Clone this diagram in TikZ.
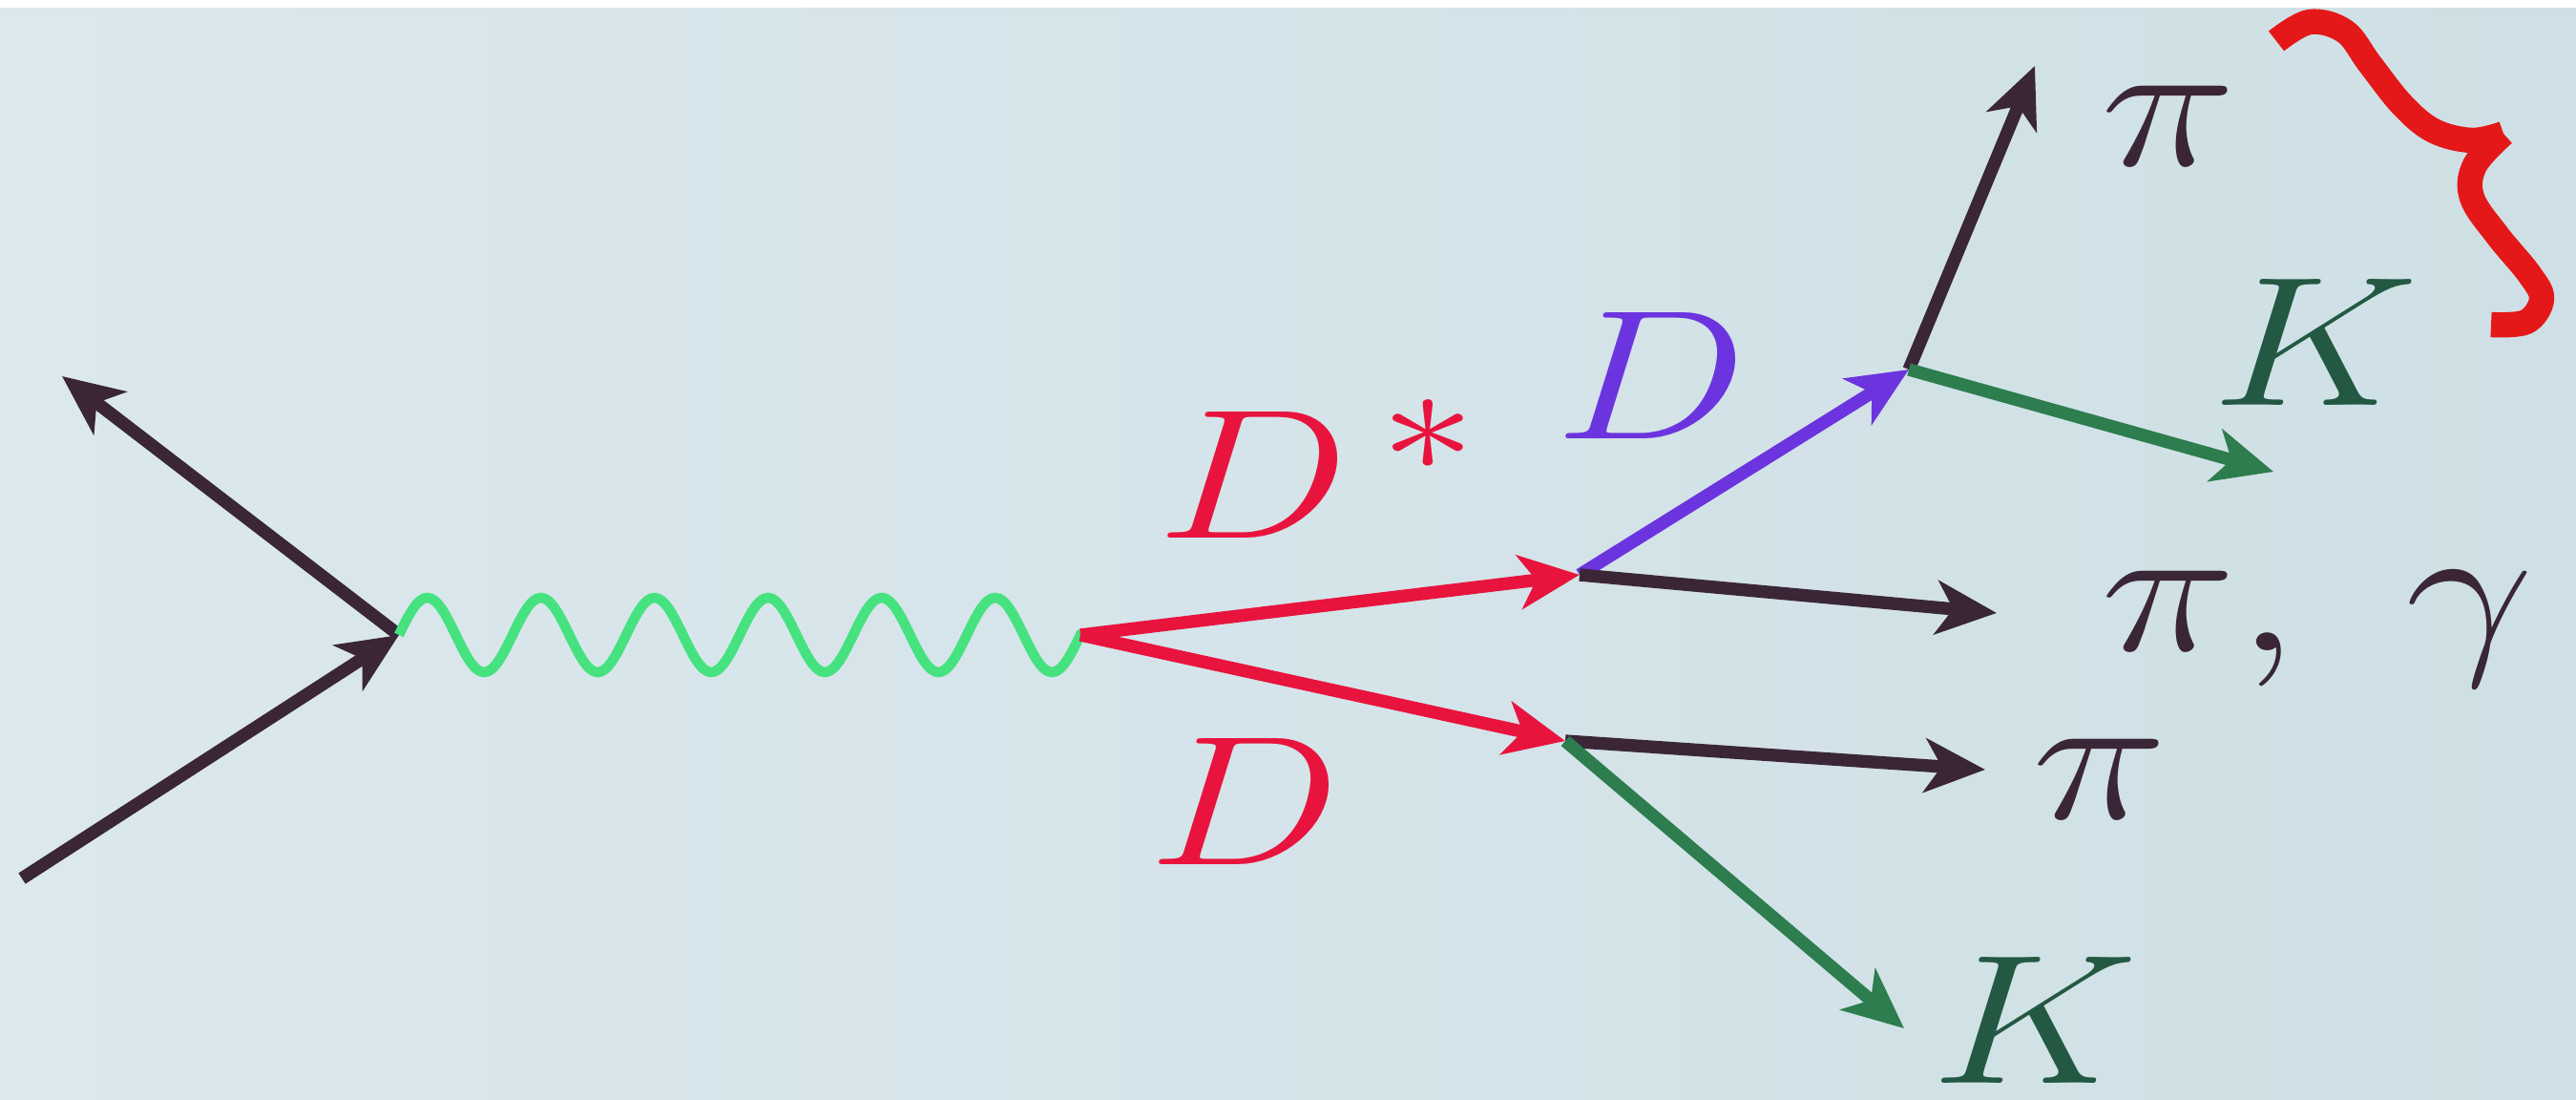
\documentclass[tikz,border=0pt]{standalone}
\usepackage{tikz}
\usetikzlibrary{arrows.meta}
\definecolor{bgLeft}{RGB}{219, 232, 238}
\definecolor{bgMid}{RGB}{221, 236, 243}
\definecolor{bgRight}{RGB}{206, 224, 229}
\definecolor{quarkDark}{RGB}{58, 38, 55}
\definecolor{photonGreen}{RGB}{70, 226, 128}
\definecolor{charmRed}{RGB}{232, 20, 62}
\definecolor{dViolet}{RGB}{108, 52, 222}
\definecolor{kaonGreen}{RGB}{45, 125, 78}
\definecolor{kaonInk}{RGB}{35, 88, 66}
\definecolor{braceRed}{RGB}{228, 24, 24}

\begin{document}
\begin{tikzpicture}[
    every node/.style={inner sep=0pt, font=\Huge, xscale=2.74, yscale=2.21},
    leg/.style={line width=3.8pt, -{Stealth[length=18pt, width=16pt, inset=5pt]}},
    photon/.style={line width=3pt, color=photonGreen}
  ]
    % Screen background
    \shade[left color=bgLeft, middle color=bgMid, right color=bgRight] (0,0) rectangle (26.99,11.51);
    \fill[white] (0,11.43) rectangle (26.99,11.51);
    \useasboundingbox (0,0) rectangle (26.99,11.51);

    % Vertices
    \coordinate (beamIn) at (0.23,2.31);
    \coordinate (beamOut) at (0.65,7.57);
    \coordinate (ee) at (4.18,4.86);
    \coordinate (cc) at (11.32,4.86);
    \coordinate (dstar) at (16.55,5.49);
    \coordinate (dbar) at (16.40,3.75);
    \coordinate (dzero) at (20.00,7.64);

    % Final state ends
    \coordinate (piUpEnd) at (21.32,10.82);
    \coordinate (kUpEnd) at (23.82,6.57);
    \coordinate (piSoftEnd) at (20.92,5.09);
    \coordinate (piLowEnd) at (20.80,3.45);
    \coordinate (kLowEnd) at (19.95,0.74);

    % Labels
    \node[text=charmRed] (lblDstar) at (13.82,6.60) {$D^{\,*}$};
    \node[text=charmRed] (lblDbar) at (13.04,3.12) {$D$};
    \node[text=dViolet] (lblDzero) at (17.30,7.58) {$D$};
    \node[text=quarkDark] (lblPiUp) at (22.72,10.19) {$\pi$};
    \node[text=kaonInk] (lblKUp) at (24.26,7.93) {$K$};
    \node[text=quarkDark, anchor=base west] (lblPiSoft) at (22.00,4.70) {$\pi,\ \gamma$};
    \node[text=quarkDark] (lblPiLow) at (22.00,3.35) {$\pi$};
    \node[text=kaonInk] (lblKLow) at (21.32,0.83) {$K$};

    % Lines
    \draw[leg, quarkDark] (beamIn) -- (ee);
    \draw[leg, quarkDark] (ee) -- (beamOut);
    \draw[photon] (ee) \foreach \k in {1,...,6} {
        sin ++(0.2975,0.39) cos ++(0.2975,-0.39) sin ++(0.2975,-0.39) cos ++(0.2975,0.39)
    } -- (cc);
    \draw[leg, charmRed] (cc) -- (dstar);
    \draw[leg, charmRed] (cc) -- (dbar);
    \draw[leg, dViolet] (dstar) -- (dzero);
    \draw[leg, quarkDark] (dstar) -- (piSoftEnd);
    \draw[leg, quarkDark] (dzero) -- (piUpEnd);
    \draw[leg, kaonGreen] (dzero) -- (kUpEnd);
    \draw[leg, quarkDark] (dbar) -- (piLowEnd);
    \draw[leg, kaonGreen] (dbar) -- (kLowEnd);

    % Hand-drawn brace
    \draw[braceRed, line width=7.5pt, line join=round] plot[smooth, tension=0.6] coordinates {
        (23.85,11.08) (24.20,11.28) (24.57,11.18) (24.83,10.84) (25.17,10.41)
        (25.50,10.14) (25.90,10.04) (26.23,10.11)};
    \draw[braceRed, line width=7.5pt, line join=round] plot[smooth, tension=0.6] coordinates {
        (26.23,10.11) (25.93,9.78) (25.90,9.44) (26.17,9.04) (26.50,8.64)
        (26.63,8.38) (26.47,8.14) (26.10,8.11)};
\end{tikzpicture}
\end{document}
